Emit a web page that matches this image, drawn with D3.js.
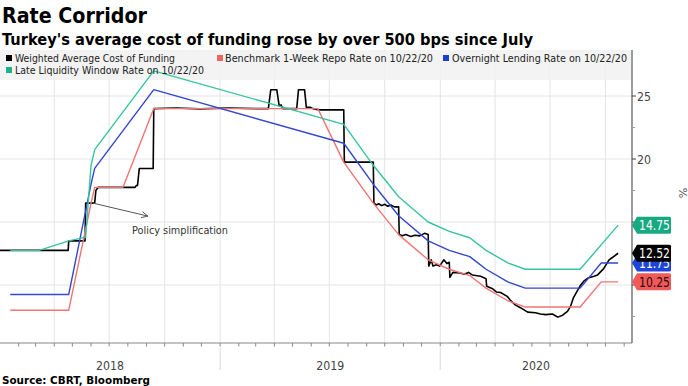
<!DOCTYPE html>
<html><head><meta charset="utf-8">
<script src="https://cdn.jsdelivr.net/npm/d3@7"></script>
<style>body{margin:0;background:#fff}svg{display:block}</style>
</head><body>
<svg id="chart" width="688" height="386"></svg>
<script>
// ---------------- DATA ----------------
const seriesNames = [
  "Weighted Average Cost of Funding",
  "Benchmark 1-Week Repo Rate on 10/22/20",
  "Overnight Lending Rate on 10/22/20",
  "Late Liquidity Window Rate on 10/22/20"
];
const wacf = [
 ["2018-01-01",12.75],["2018-04-24",12.75],["2018-04-25",13.5],["2018-05-22",13.5],["2018-05-23",16.5],
 ["2018-06-07",16.5],["2018-06-09",17.5],["2018-06-13",17.75],["2018-08-13",17.75],["2018-08-15",17.9],
 ["2018-08-17",17.9],["2018-08-20",19.25],["2018-09-12",19.25],["2018-09-13",24.0],["2018-10-20",24.05],
 ["2018-11-28",23.98],["2019-01-15",24.05],["2019-03-01",24.0],["2019-03-22",24.0],["2019-03-26",25.5],
 ["2019-04-05",25.5],["2019-04-09",24.2],["2019-04-12",24.3],["2019-04-15",24.0],["2019-05-08",24.0],
 ["2019-05-11",25.5],["2019-05-21",25.5],["2019-05-24",24.1],["2019-05-31",24.1],["2019-06-04",24.0],
 ["2019-06-14",23.9],["2019-07-25",23.9],["2019-07-26",19.75],["2019-09-12",19.75],["2019-09-13",16.5],
 ["2019-09-17",16.35],["2019-09-21",16.45],["2019-09-26",16.3],["2019-10-01",16.4],["2019-10-06",16.25],
 ["2019-10-11",16.35],["2019-10-17",16.2],["2019-10-24",16.2],["2019-10-25",14.0],["2019-10-30",13.9],
 ["2019-11-05",14.0],["2019-11-13",13.85],["2019-11-20",13.95],["2019-11-28",13.9],["2019-12-06",14.1],
 ["2019-12-12",14.0],["2019-12-13",11.5],["2019-12-17",12.0],["2019-12-20",11.5],["2019-12-26",11.6],
 ["2019-12-31",11.5],["2020-01-07",12.0],["2020-01-12",11.7],["2020-01-16",11.8],["2020-01-17",10.6],
 ["2020-01-22",11.0],["2020-02-03",10.95],["2020-02-10",10.85],["2020-02-17",11.0],["2020-02-23",10.8],
 ["2020-03-08",10.7],["2020-03-17",10.5],["2020-03-18",9.9],["2020-03-28",9.7],["2020-04-03",9.45],
 ["2020-04-10",9.4],["2020-04-21",9.1],["2020-04-26",8.8],["2020-05-05",8.4],["2020-05-13",8.2],
 ["2020-05-25",7.85],["2020-06-07",7.8],["2020-06-15",7.7],["2020-06-24",7.65],["2020-07-05",7.7],
 ["2020-07-14",7.45],["2020-07-22",7.6],["2020-07-30",7.9],["2020-08-04",8.3],["2020-08-09",9.0],
 ["2020-08-16",9.6],["2020-08-21",10.0],["2020-08-26",10.3],["2020-09-02",10.55],["2020-09-12",10.7],
 ["2020-09-18",10.8],["2020-09-28",11.3],["2020-10-07",12.0],["2020-10-13",12.2],["2020-10-22",12.52]
];
const repoRate = [
 ["2018-01-18",8.0],["2018-03-07",8.0],["2018-04-25",8.0],["2018-06-01",16.5],["2018-06-07",17.75],
 ["2018-07-24",17.75],["2018-09-13",24.0],["2018-10-25",24.0],["2018-12-13",24.0],["2019-01-16",24.0],
 ["2019-03-06",24.0],["2019-04-25",24.0],["2019-06-12",24.0],["2019-07-25",19.75],["2019-09-12",16.5],
 ["2019-10-24",14.0],["2019-12-12",12.0],["2020-01-16",11.25],["2020-02-19",10.75],["2020-03-17",9.75],
 ["2020-04-22",8.75],["2020-05-21",8.25],["2020-06-25",8.25],["2020-07-23",8.25],["2020-08-20",8.25],
 ["2020-09-24",10.25],["2020-10-22",10.25]
];
const overnightRate = [
 ["2018-01-18",9.25],["2018-03-07",9.25],["2018-04-25",9.25],["2018-06-01",18.0],["2018-06-07",19.25],
 ["2018-09-13",25.5],["2019-07-25",21.25],["2019-09-12",18.0],["2019-10-24",15.5],["2019-12-12",13.5],
 ["2020-01-16",12.75],["2020-02-19",12.25],["2020-03-17",11.25],["2020-04-22",10.25],["2020-05-21",9.75],
 ["2020-08-20",9.75],["2020-09-24",11.75],["2020-10-22",11.75]
];
const lateLiquidityRate = [
 ["2018-01-18",12.75],["2018-03-07",12.75],["2018-04-25",13.5],["2018-05-23",13.8],["2018-06-01",19.5],
 ["2018-06-07",20.75],["2018-09-13",27.0],["2019-07-25",22.75],["2019-09-12",19.5],["2019-10-24",17.0],
 ["2019-12-12",15.0],["2020-01-16",14.25],["2020-02-19",13.75],["2020-03-17",12.75],["2020-04-22",11.75],
 ["2020-05-21",11.25],["2020-08-20",11.25],["2020-10-22",14.75]
];
const yTickValues = [10, 15, 20, 25];
const yTickLabels = ["", "", "20", "25"];   // 10 and 15 are hidden behind the value tags in the reference
const yMinorTicks = [7.5, 12.5, 17.5, 22.5];
const yearLabels = ["2018", "2019", "2020"];
const annotation = {date: "2018-06-04", value: 16.5, text: "Policy simplification"};

// ---------------- STYLE ----------------
const lineColors = ["#000000", "#f07474", "#3347cc", "#36c4a0"];
const keyColors  = ["#000000", "#f06464", "#1a3fd0", "#1db38a"];
const tagFills   = ["#000000", "#f25a5a", "#1f45d6", "#17a982"];
const tagText    = ["#ffffff", "#2a0a0a", "#ffffff", "#ffffff"];

const parse = d3.timeParse("%Y-%m-%d");
const toPts = arr => arr.map(([d, v]) => ({date: parse(d), value: v}));
const series = [wacf, repoRate, overnightRate, lateLiquidityRate].map(toPts);

const P = {left: 0, right: 632, top: 50, bottom: 343};
const svg = d3.select("#chart");
const F = "'DejaVu Sans', Verdana, sans-serif";

const x = d3.scaleTime().domain([parse("2018-01-01"), parse("2020-11-14")]).range([P.left, P.right]);
const y = d3.scaleLinear().domain([5, 30]).range([348, 33]);

// title
svg.append("text").attr("x", 2).attr("y", 23).attr("font-family", F).attr("font-weight", "bold")
  .attr("font-size", 21).attr("textLength", 145).attr("lengthAdjust", "spacingAndGlyphs")
  .attr("fill", "#000").text("Rate Corridor");
svg.append("text").attr("x", 2).attr("y", 45).attr("font-family", F).attr("font-weight", "bold")
  .attr("font-size", 15).attr("textLength", 531).attr("lengthAdjust", "spacingAndGlyphs")
  .attr("fill", "#000").text("Turkey's average cost of funding rose by over 500 bps since July");

// grid
const grid = svg.append("g").attr("stroke", "#e4e4e4").attr("stroke-width", 1);
grid.selectAll("line.h").data(yTickValues).join("line")
  .attr("x1", P.left).attr("x2", P.right).attr("y1", d => y(d)).attr("y2", d => y(d));
const quarters = d3.timeMonth.every(3).range(x.domain()[0], x.domain()[1]).filter(d => x(d) > 1);
grid.selectAll("line.v").data(quarters).join("line")
  .attr("x1", d => x(d)).attr("x2", d => x(d)).attr("y1", P.top).attr("y2", P.bottom);

// legend band
svg.append("rect").attr("x", 0).attr("y", P.top).attr("width", P.right - 1).attr("height", 30)
  .attr("fill", "#f1f1f1").attr("opacity", 0.85);

// lines
svg.append("clipPath").attr("id", "clip").append("rect")
  .attr("x", P.left).attr("y", P.top).attr("width", P.right - P.left).attr("height", P.bottom - P.top);
const line = d3.line().x(d => x(d.date)).y(d => y(d.value));
const gl = svg.append("g").attr("clip-path", "url(#clip)").attr("fill", "none")
  .attr("stroke-linejoin", "round");
[0, 1, 2, 3].forEach(i => {
  gl.append("path").datum(series[i]).attr("d", line)
    .attr("stroke", lineColors[i]).attr("stroke-width", i === 0 ? 1.6 : 1.4);
});

// legend
const legendPos = [[6, 62, 15, 160], [217, 62, 225, 208], [443, 62, 452, 175], [6, 74, 15, 189]];
const lg = svg.append("g");
seriesNames.forEach((n, i) => {
  const [sx, by, tx, tl] = legendPos[i];
  lg.append("rect").attr("x", sx).attr("y", by - 7).attr("width", 6).attr("height", 6).attr("fill", keyColors[i]);
  lg.append("text").attr("x", tx).attr("y", by).attr("font-family", F).attr("font-size", 11)
    .attr("textLength", tl).attr("lengthAdjust", "spacingAndGlyphs").attr("fill", "#222").text(n);
});

// bottom axis
const ax = svg.append("g");
ax.append("line").attr("x1", P.left).attr("x2", P.right).attr("y1", P.bottom).attr("y2", P.bottom)
  .attr("stroke", "#888").attr("stroke-width", 1.2);
const months = d3.timeMonth.range(x.domain()[0], x.domain()[1]).filter(d => x(d) > 1);
ax.selectAll("line.m").data(months).join("line")
  .attr("x1", d => x(d)).attr("x2", d => x(d)).attr("y1", P.bottom).attr("y2", P.bottom + 3.5)
  .attr("stroke", "#888");
const yearStarts = yearLabels.map(t => parse(t + "-01-01"));
ax.selectAll("line.ysep").data(yearStarts.slice(1)).join("line")
  .attr("x1", d => x(d)).attr("x2", d => x(d)).attr("y1", P.bottom + 5).attr("y2", P.bottom + 27)
  .attr("stroke", "#d8d8d8");
ax.selectAll("text.yr").data(yearLabels).join("text")
  .attr("x", (t, i) => {
    const a = Math.max(x(yearStarts[i]), P.left);
    const b = Math.min(x(parse((+t + 1) + "-01-01")), P.right);
    return (a + b) / 2;
  })
  .attr("y", 370).attr("text-anchor", "middle").attr("font-family", F).attr("font-size", 13)
  .attr("textLength", 28).attr("lengthAdjust", "spacingAndGlyphs").attr("fill", "#444").text(t => t);

// right axis
const ra = svg.append("g");
ra.append("line").attr("x1", P.right).attr("x2", P.right).attr("y1", P.top).attr("y2", P.bottom)
  .attr("stroke", "#666").attr("stroke-width", 1.3);
ra.selectAll("line.t").data(yTickValues).join("line")
  .attr("x1", P.right).attr("x2", P.right + 4).attr("y1", d => y(d)).attr("y2", d => y(d)).attr("stroke", "#444");
ra.selectAll("line.mt").data(yMinorTicks).join("line")
  .attr("x1", P.right).attr("x2", P.right + 3).attr("y1", d => y(d)).attr("y2", d => y(d)).attr("stroke", "#999");
ra.selectAll("text.t").data(yTickValues.filter((d, i) => yTickLabels[i])).join("text")
  .attr("x", P.right + 5).attr("y", d => y(d) + 5).attr("font-family", F).attr("font-size", 13)
  .attr("textLength", 14).attr("lengthAdjust", "spacingAndGlyphs").attr("fill", "#444")
  .text(d => yTickLabels[yTickValues.indexOf(d)]);
svg.append("text").attr("transform", "translate(679,193) rotate(90)").attr("font-family", F)
  .attr("font-size", 11).attr("fill", "#555").attr("text-anchor", "middle").text("%");

// value tags
const tagOrder = [3, 1, 2, 0];
const tags = svg.append("g");
tagOrder.forEach(i => {
  const last = series[i][series[i].length - 1];
  const cy = y(last.value), h = 8.5, x0 = P.right, x1 = P.right + 5, x2 = P.right + 39;
  tags.append("path")
    .attr("d", `M${x0},${cy} L${x1},${cy - h} L${x2 - 1.5},${cy - h} Q${x2},${cy - h} ${x2},${cy - h + 1.5} L${x2},${cy + h - 1.5} Q${x2},${cy + h} ${x2 - 1.5},${cy + h} L${x1},${cy + h} Z`)
    .attr("fill", tagFills[i]);
  tags.append("text").attr("x", x1 + 2).attr("y", cy + 5).attr("font-family", F).attr("font-size", 13.5)
    .attr("textLength", 31).attr("lengthAdjust", "spacingAndGlyphs").attr("fill", tagText[i])
    .text(last.value.toFixed(2));
});

// annotation
const axp = x(parse(annotation.date)), ayp = y(annotation.value);
const ex = axp + 55, ey = ayp + 13;
const an = svg.append("g").attr("stroke", "#555").attr("stroke-width", 1).attr("fill", "none");
an.append("line").attr("x1", axp).attr("y1", ayp).attr("x2", ex).attr("y2", ey);
const ang = Math.atan2(ey - ayp, ex - axp);
const arm = (da) => [ex - 7 * Math.cos(ang + da), ey - 7 * Math.sin(ang + da)];
const a1 = arm(0.45), a2 = arm(-0.45);
an.append("path").attr("d", `M${a1[0]},${a1[1]} L${ex},${ey} L${a2[0]},${a2[1]}`);
svg.append("text").attr("x", 132).attr("y", 234).attr("font-family", F).attr("font-size", 11)
  .attr("textLength", 96).attr("lengthAdjust", "spacingAndGlyphs").attr("fill", "#333").text(annotation.text);

// source
svg.append("text").attr("x", 2).attr("y", 384).attr("font-family", F).attr("font-weight", "bold")
  .attr("font-size", 11).attr("textLength", 148).attr("lengthAdjust", "spacingAndGlyphs")
  .attr("fill", "#000").text("Source: CBRT, Bloomberg");
</script>
</body></html>
